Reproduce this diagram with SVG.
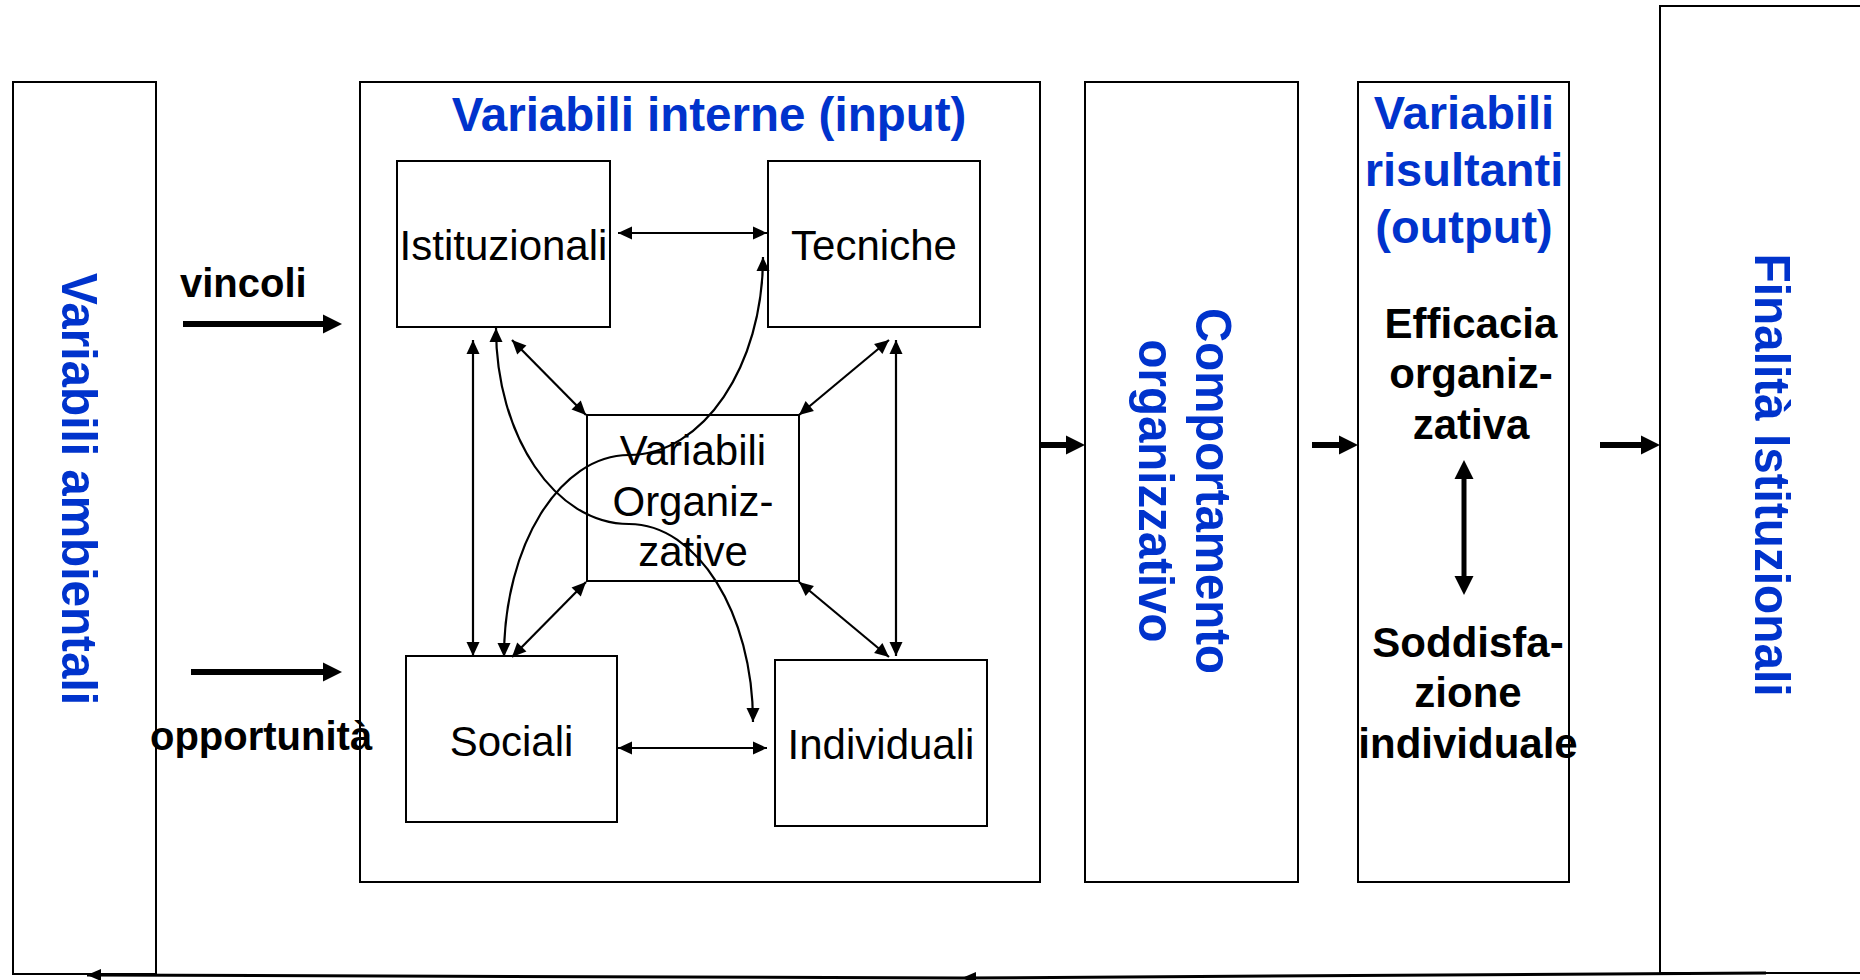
<svg xmlns="http://www.w3.org/2000/svg" width="1860" height="980" viewBox="0 0 1860 980">
<defs>
<style>
.box{fill:#fff;stroke:#000;stroke-width:2}
.blue{font-family:"Liberation Sans",Arial,sans-serif;font-weight:bold;fill:#0033cc}
.blk{font-family:"Liberation Sans",Arial,sans-serif;font-weight:bold;fill:#000}
.reg{font-family:"Liberation Sans",Arial,sans-serif;font-size:42px;fill:#000}
.thin{fill:none;stroke:#000;stroke-width:2.2}
.thick{fill:none;stroke:#000;stroke-width:6}
.fb{fill:none;stroke:#000;stroke-width:3}
</style>
<marker id="ah" markerUnits="userSpaceOnUse" markerWidth="14" markerHeight="13" refX="14" refY="6.5" orient="auto-start-reverse" overflow="visible">
<path d="M0,0 L14,6.5 L0,13 z" fill="#000"/>
</marker>
<marker id="big" markerUnits="userSpaceOnUse" markerWidth="19" markerHeight="19" refX="0" refY="9.5" orient="auto-start-reverse" overflow="visible">
<path d="M0,0 L19,9.5 L0,19 z" fill="#000"/>
</marker>
<marker id="fbh" markerUnits="userSpaceOnUse" markerWidth="14" markerHeight="12" refX="14" refY="6" orient="auto" overflow="visible">
<path d="M0,0 L14,6 L0,12 z" fill="#000"/>
</marker>
</defs>
<rect width="1860" height="980" fill="#fff"/>

<g id="ambientali">
<rect class="box" x="13" y="82" width="143" height="892"/>
<text class="blue" font-size="50" transform="translate(62,489) rotate(90)" text-anchor="middle" textLength="432" lengthAdjust="spacingAndGlyphs">Variabili ambientali</text>
</g>

<g id="interne">
<rect class="box" x="360" y="82" width="680" height="800"/>
<text class="blue" font-size="47.5" x="709" y="131" text-anchor="middle">Variabili interne (input)</text>
</g>

<g id="istituzionali">
<rect class="box" x="397" y="161" width="213" height="166"/>
<text class="reg" x="503.5" y="260" text-anchor="middle">Istituzionali</text>
</g>
<g id="tecniche">
<rect class="box" x="768" y="161" width="212" height="166"/>
<text class="reg" x="874" y="260" text-anchor="middle">Tecniche</text>
</g>
<g id="organizzative">
<rect class="box" x="587" y="415" width="212" height="166"/>
<text class="reg" x="693" y="465" text-anchor="middle">Variabili</text>
<text class="reg" x="693" y="516" text-anchor="middle">Organiz-</text>
<text class="reg" x="693" y="566" text-anchor="middle">zative</text>
</g>
<g id="sociali">
<rect class="box" x="406" y="656" width="211" height="166"/>
<text class="reg" x="511.5" y="756" text-anchor="middle">Sociali</text>
</g>
<g id="individuali">
<rect class="box" x="775" y="660" width="212" height="166"/>
<text class="reg" x="881" y="759" text-anchor="middle">Individuali</text>
</g>

<g id="comportamento">
<rect class="box" x="1085" y="82" width="213" height="800"/>
<text class="blue" font-size="50" transform="translate(1196,491) rotate(90)" text-anchor="middle" textLength="366" lengthAdjust="spacingAndGlyphs">Comportamento</text>
<text class="blue" font-size="50" transform="translate(1139,491) rotate(90)" text-anchor="middle" textLength="303" lengthAdjust="spacingAndGlyphs">organizzativo</text>
</g>

<g id="risultanti">
<rect class="box" x="1358" y="82" width="211" height="800"/>
<text class="blue" font-size="47" x="1464" y="129" text-anchor="middle">Variabili</text>
<text class="blue" font-size="47" x="1464" y="186" text-anchor="middle">risultanti</text>
<text class="blue" font-size="47" x="1464" y="243" text-anchor="middle">(output)</text>
<text class="blk" font-size="42" x="1471" y="338" text-anchor="middle">Efficacia</text>
<text class="blk" font-size="42" x="1471" y="388" text-anchor="middle">organiz-</text>
<text class="blk" font-size="42" x="1471" y="439" text-anchor="middle">zativa</text>
<text class="blk" font-size="42" x="1468" y="657" text-anchor="middle">Soddisfa-</text>
<text class="blk" font-size="42" x="1468" y="707" text-anchor="middle">zione</text>
<text class="blk" font-size="42" x="1468" y="758" text-anchor="middle">individuale</text>
</g>

<g id="finalita">
<rect class="box" x="1660" y="6" width="230" height="967"/>
<text class="blue" font-size="50" transform="translate(1755,475) rotate(90)" text-anchor="middle" textLength="443" lengthAdjust="spacingAndGlyphs">Finalità Istituzionali</text>
</g>

<g id="labels">
<text class="blk" font-size="40" x="180" y="297">vincoli</text>
<text class="blk" font-size="40" x="150" y="750">opportunità</text>
</g>

<g id="connectors">
<line class="thick" x1="183" y1="324" x2="323" y2="324" marker-end="url(#big)"/>
<line class="thick" x1="191" y1="672" x2="323" y2="672" marker-end="url(#big)"/>
<line class="thick" x1="1041" y1="445" x2="1066" y2="445" marker-end="url(#big)"/>
<line class="thick" x1="1312" y1="445" x2="1339" y2="445" marker-end="url(#big)"/>
<line class="thick" x1="1600" y1="445" x2="1641" y2="445" marker-end="url(#big)"/>
<line x1="1464" y1="479" x2="1464" y2="576" stroke="#000" stroke-width="5" marker-start="url(#big)" marker-end="url(#big)"/>

<line class="thin" x1="618" y1="233" x2="767" y2="233" marker-start="url(#ah)" marker-end="url(#ah)"/>
<line class="thin" x1="618" y1="748" x2="767" y2="748" marker-start="url(#ah)" marker-end="url(#ah)"/>
<line class="thin" x1="473" y1="340" x2="473" y2="656" marker-start="url(#ah)" marker-end="url(#ah)"/>
<line class="thin" x1="896" y1="340" x2="896" y2="656" marker-start="url(#ah)" marker-end="url(#ah)"/>
<line class="thin" x1="512" y1="340" x2="586" y2="415" marker-start="url(#ah)" marker-end="url(#ah)"/>
<line class="thin" x1="889" y1="340" x2="799" y2="415" marker-start="url(#ah)" marker-end="url(#ah)"/>
<line class="thin" x1="586" y1="582" x2="512" y2="657" marker-start="url(#ah)" marker-end="url(#ah)"/>
<line class="thin" x1="799" y1="582" x2="889" y2="657" marker-start="url(#ah)" marker-end="url(#ah)"/>
<path class="thin" d="M504,657 C504,545 560,455 629,455 C703,455 763,366 763,257" marker-start="url(#ah)" marker-end="url(#ah)"/>
<path class="thin" d="M496,328 C496,436 555,524 629,524 C697,524 753,613 753,722" marker-start="url(#ah)" marker-end="url(#ah)"/>

<path class="fb" d="M1766,973 L962,978" marker-end="url(#fbh)"/>
<path class="fb" d="M962,978 L87,975" marker-end="url(#fbh)"/>
</g>
</svg>
